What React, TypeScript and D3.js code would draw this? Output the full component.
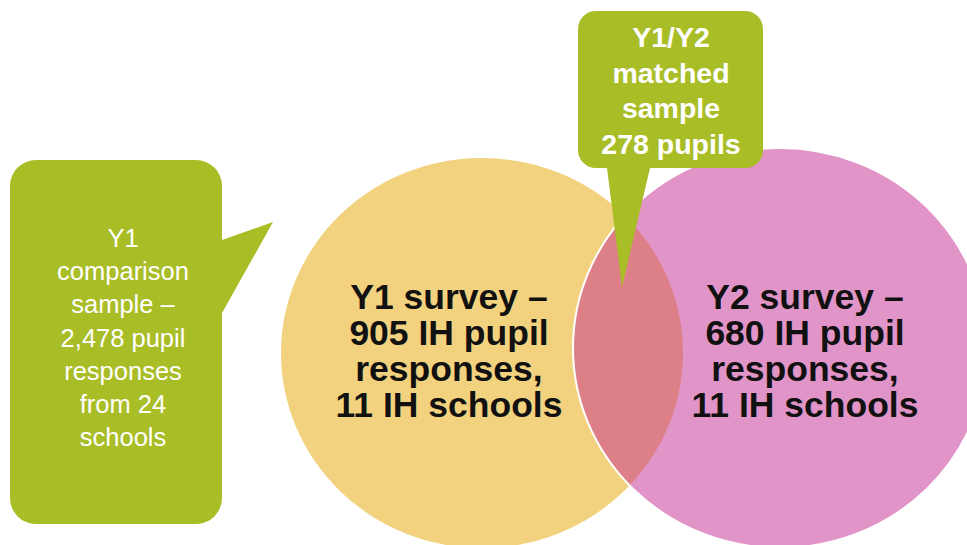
import * as d3 from 'd3';
import React, { useEffect, useRef } from 'react';

// Text shown in the diagram
const y1Lines = ['Y1 survey –', '905 IH pupil', 'responses,', '11 IH schools'];
const y2Lines = ['Y2 survey –', '680 IH pupil', 'responses,', '11 IH schools'];
const matchedLines = ['Y1/Y2', 'matched', 'sample', '278 pupils'];
const comparisonLines = ['Y1', 'comparison', 'sample –', '2,478 pupil', 'responses', 'from 24', 'schools'];

const width = 967;
const height = 545;

const YELLOW = '#f2d27e';
const PINK = '#e194c8';
const LENS = '#dc7f86';
const GREEN = '#a9bd27';
const FONT = '"Liberation Sans", Arial, sans-serif';

// rounded box with a pointer
function callout(x0: number, y0: number, x1: number, y1: number, r: number, ptr: any) {
    const p = d3.path();
    p.moveTo(x0 + r, y0);
    p.lineTo(x1 - r, y0);
    p.arcTo(x1, y0, x1, y0 + r, r);
    if (ptr.side === 'right') {
        p.lineTo(x1, ptr.a);
        p.lineTo(ptr.tx, ptr.ty);
        p.lineTo(x1, ptr.b);
    }
    p.lineTo(x1, y1 - r);
    p.arcTo(x1, y1, x1 - r, y1, r);
    if (ptr.side === 'bottom') {
        p.lineTo(ptr.b, y1);
        p.lineTo(ptr.tx, ptr.ty);
        p.lineTo(ptr.a, y1);
    }
    p.lineTo(x0 + r, y1);
    p.arcTo(x0, y1, x0, y1 - r, r);
    p.lineTo(x0, y0 + r);
    p.arcTo(x0, y0, x0 + r, y0, r);
    p.closePath();
    return p.toString();
}

export default function App() {
    const svgRef = useRef(null);

    useEffect(() => {
        const svg = d3.select(svgRef.current);
        svg.selectAll('*').remove();

        const defs = svg.append('defs');
        defs.append('clipPath').attr('id', 'pinkClip')
            .append('ellipse')
            .attr('cx', 780).attr('cy', 348).attr('rx', 207).attr('ry', 200);

        // Y1 set
        svg.append('ellipse')
            .attr('cx', 482).attr('cy', 353).attr('rx', 201).attr('ry', 195)
            .attr('fill', YELLOW);

        // Y2 set
        svg.append('ellipse')
            .attr('cx', 780).attr('cy', 348).attr('rx', 207).attr('ry', 200)
            .attr('fill', PINK);

        // overlap
        svg.append('ellipse')
            .attr('clip-path', 'url(#pinkClip)')
            .attr('cx', 482).attr('cy', 353).attr('rx', 201).attr('ry', 195)
            .attr('fill', LENS);

        svg.append('ellipse')
            .attr('cx', 780).attr('cy', 348).attr('rx', 207).attr('ry', 200)
            .attr('fill', 'none')
            .attr('stroke', 'white')
            .attr('stroke-width', 2);

        const lines = (g: any, data: string[], cx: number, y0: number, step: number) => {
            g.selectAll('text')
                .data(data)
                .enter()
                .append('text')
                .attr('x', cx)
                .attr('y', (d: string, i: number) => y0 + i * step)
                .attr('text-anchor', 'middle')
                .text((d: string) => d);
        };

        const setText1 = svg.append('g')
            .attr('font-family', FONT).attr('font-weight', 'bold')
            .attr('font-size', 35.5).attr('fill', '#111');
        lines(setText1, y1Lines, 449, 309, 36);

        const setText2 = svg.append('g')
            .attr('font-family', FONT).attr('font-weight', 'bold')
            .attr('font-size', 35.5).attr('fill', '#111');
        lines(setText2, y2Lines, 805, 309, 36);

        // left callout
        svg.append('path')
            .attr('d', callout(10, 160, 222, 524, 26, { side: 'right', a: 240, b: 313, tx: 273, ty: 222 }))
            .attr('fill', GREEN);
        const leftText = svg.append('g')
            .attr('font-family', FONT)
            .attr('font-size', 25.5).attr('fill', 'white');
        lines(leftText, comparisonLines, 123, 247, 33.2);

        // top callout
        svg.append('path')
            .attr('d', callout(578, 11, 763, 168, 18, { side: 'bottom', a: 607, b: 650, tx: 622, ty: 287 }))
            .attr('fill', GREEN);
        const topText = svg.append('g')
            .attr('font-family', FONT).attr('font-weight', 'bold')
            .attr('font-size', 28.5).attr('fill', 'white');
        lines(topText, matchedLines, 671, 47, 35.5);
    }, []);

    return (
        <svg ref={svgRef} width={width} height={height}
            style={{ position: 'absolute', left: 0, top: 0, background: 'white' }}></svg>
    );
}
